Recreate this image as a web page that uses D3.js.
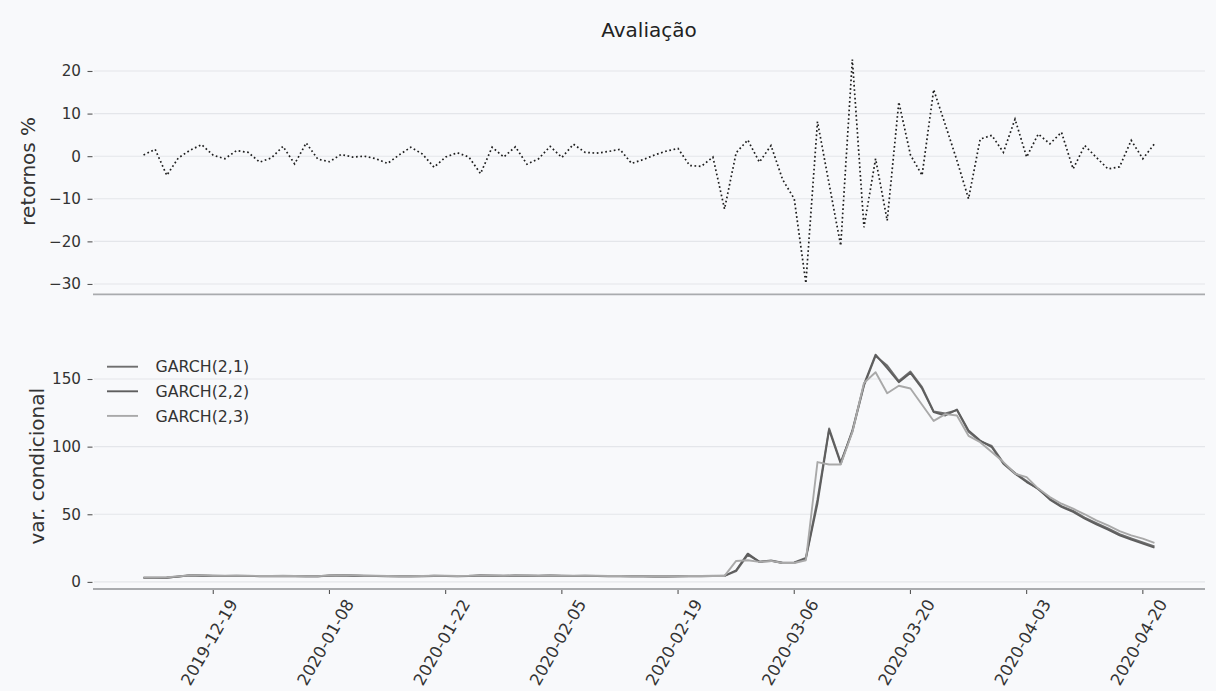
<!DOCTYPE html>
<html><head><meta charset="utf-8">
<script src="https://cdn.jsdelivr.net/npm/d3@7"></script>
<style>
html,body{margin:0;padding:0;background:#f8f9fb;}
svg{display:block;font-family:"DejaVu Sans",sans-serif;}
</style></head><body>
<svg id="chart" width="1216" height="691"></svg>
<script>
// Trading days (B3) in the evaluation window
const dates = [
  "2019-12-11","2019-12-12","2019-12-13","2019-12-16","2019-12-17","2019-12-18","2019-12-19","2019-12-20","2019-12-23","2019-12-26","2019-12-27","2019-12-30",
  "2020-01-02","2020-01-03","2020-01-06","2020-01-07","2020-01-08","2020-01-09","2020-01-10","2020-01-13","2020-01-14","2020-01-15","2020-01-16","2020-01-17","2020-01-20","2020-01-21","2020-01-22","2020-01-23","2020-01-24","2020-01-27","2020-01-28","2020-01-29","2020-01-30","2020-01-31",
  "2020-02-03","2020-02-04","2020-02-05","2020-02-06","2020-02-07","2020-02-10","2020-02-11","2020-02-12","2020-02-13","2020-02-14","2020-02-17","2020-02-18","2020-02-19","2020-02-20","2020-02-21","2020-02-26","2020-02-27","2020-02-28",
  "2020-03-02","2020-03-03","2020-03-04","2020-03-05","2020-03-06","2020-03-09","2020-03-10","2020-03-11","2020-03-12","2020-03-13","2020-03-16","2020-03-17","2020-03-18","2020-03-19","2020-03-20","2020-03-23","2020-03-24","2020-03-25","2020-03-26","2020-03-27","2020-03-30","2020-03-31",
  "2020-04-01","2020-04-02","2020-04-03","2020-04-06","2020-04-07","2020-04-08","2020-04-09","2020-04-13","2020-04-14","2020-04-15","2020-04-16","2020-04-17","2020-04-20","2020-04-22"
];

// Daily returns (%)
const retornos = [
  0.3, 1.6, -4.5, -0.4, 1.4, 2.7, 0.2, -0.6, 1.3, 0.9, -1.4, -0.4, 2.3, -1.8, 3.1, -0.7, -1.3, 0.4, -0.2, 0.0,
  -0.6, -1.7, 0.3, 2.1, 0.5, -2.6, -0.2, 0.8, -0.2, -4.1, 2.1, -0.2, 2.2, -1.9, -0.6, 2.3, -0.3, 2.8, 0.9, 0.7,
  1.1, 1.6, -1.7, -0.8, 0.3, 1.2, 1.8, -2.2, -2.4, -0.2, -12.4, 0.8, 3.8, -1.4, 2.5, -5.5, -10.0, -29.8, 8.1, -6.5,
  -21.0, 22.7, -16.7, -0.6, -15.1, 12.7, 0.3, -4.5, 15.6, 7.4, -1.0, -10.0, 4.0, 4.9, 0.9, 8.7, -0.2, 5.2, 2.9, 5.6,
  -3.0, 2.5, -0.3, -3.0, -2.5, 3.7, -0.6, 2.9
];

// Conditional variance forecasts
const garch21 = [
  3.1, 3.1, 3.2, 4.0, 4.9, 4.7, 4.5, 4.4, 4.5, 4.4, 4.3, 4.3, 4.4, 4.3, 4.2, 4.2, 4.7, 4.9, 4.7, 4.5,
  4.4, 4.3, 4.2, 4.2, 4.3, 4.5, 4.4, 4.3, 4.4, 4.8, 4.6, 4.5, 4.7, 4.6, 4.5, 4.7, 4.5, 4.4, 4.5, 4.4,
  4.3, 4.3, 4.2, 4.2, 4.1, 4.1, 4.2, 4.3, 4.3, 4.4, 4.5, 8.0, 20.0, 15.0, 15.8, 14.2, 14.4, 17.8, 61.0, 113.5,
  88.5, 111.0, 145.0, 167.0, 160.0, 148.5, 155.5, 144.0, 126.0, 124.5, 127.0, 111.0, 104.0, 100.5, 88.0, 80.5, 74.5, 68.5, 61.5, 56.0,
  52.5, 47.5, 43.5, 39.5, 35.3, 32.2, 29.2, 26.3
];
const garch22 = [
  3.0, 3.0, 3.1, 3.9, 4.8, 4.6, 4.4, 4.3, 4.4, 4.3, 4.2, 4.2, 4.3, 4.2, 4.1, 4.1, 4.6, 4.8, 4.6, 4.4,
  4.3, 4.2, 4.1, 4.1, 4.2, 4.4, 4.3, 4.2, 4.3, 4.7, 4.5, 4.4, 4.6, 4.5, 4.4, 4.6, 4.4, 4.3, 4.4, 4.3,
  4.2, 4.2, 4.1, 4.1, 4.0, 4.0, 4.1, 4.2, 4.2, 4.3, 4.4, 8.6, 20.9, 14.8, 15.5, 14.0, 14.0, 17.2, 58.0, 112.4,
  87.3, 112.0, 146.0, 168.0, 158.0, 147.6, 154.5, 143.0, 125.5, 123.0, 127.4, 112.0, 104.5, 99.6, 87.3, 80.0, 73.8, 68.9, 60.8, 55.4,
  51.7, 46.7, 42.6, 38.6, 34.4, 31.2, 28.3, 25.3
];
const garch23 = [
  3.3, 3.3, 3.4, 4.1, 4.9, 4.8, 4.6, 4.5, 4.6, 4.5, 4.4, 4.4, 4.5, 4.4, 4.3, 4.3, 4.7, 4.9, 4.8, 4.6,
  4.5, 4.4, 4.3, 4.3, 4.4, 4.6, 4.5, 4.4, 4.5, 4.8, 4.7, 4.6, 4.7, 4.7, 4.6, 4.7, 4.6, 4.5, 4.6, 4.5,
  4.4, 4.4, 4.3, 4.3, 4.2, 4.2, 4.3, 4.4, 4.4, 4.5, 4.4, 15.5, 16.0, 14.8, 15.5, 14.0, 14.0, 16.0, 88.6, 86.8,
  86.8, 110.7, 147.0, 155.0, 139.5, 145.0, 143.0, 131.0, 119.0, 124.0, 123.0, 108.0, 103.3, 96.0, 88.6, 80.0, 77.5, 69.0, 62.7, 57.8,
  54.1, 50.0, 45.5, 41.8, 37.6, 34.4, 32.0, 28.8
];

const seriesNames = ["GARCH(2,1)", "GARCH(2,2)", "GARCH(2,3)"];
const seriesColors = ["#6f6f6f", "#5e5e5e", "#a9a9a9"];
const yTicksTop = [-30, -20, -10, 0, 10, 20];
const yTicksBottom = [0, 50, 100, 150];
const xTickStep = 10, xTickFirst = 6;

const svg = d3.select("#chart");
const W = 1216;
const left = 93, right = 1205;
const topPanel = {y0: 48.3, y1: 294.3};
const botPanel = {y0: 343.5, y1: 589};
const textColor = "#333";

svg.append("rect").attr("width", W).attr("height", 691).attr("fill", "#f8f9fb");

// matplotlib-style 5% margins around the data extent
function padded(ext) {
  const m = (ext[1] - ext[0]) * 0.05;
  return [ext[0] - m, ext[1] + m];
}

const n = dates.length;
const x = d3.scaleLinear().domain(padded([0, n - 1])).range([left, right]);
const yTop = d3.scaleLinear().domain(padded(d3.extent(retornos))).range([topPanel.y1, topPanel.y0]);
const allVar = garch21.concat(garch22, garch23);
const yBot = d3.scaleLinear().domain(padded(d3.extent(allVar))).range([botPanel.y1, botPanel.y0]);

function drawFrame(y, ticks, panel) {
  const g = svg.append("g");
  g.selectAll("line.grid").data(ticks).enter().append("line")
    .attr("x1", left + 1).attr("x2", right)
    .attr("y1", d => y(d)).attr("y2", d => y(d))
    .attr("stroke", "#e4e6ea").attr("stroke-width", 1.1);
  const ax = g.append("g").attr("transform", `translate(${left},0)`)
    .call(d3.axisLeft(y).tickValues(ticks).tickSize(5).tickPadding(7)
      .tickFormat(d => d < 0 ? "\u2212" + Math.abs(d) : String(d)));
  ax.select(".domain").remove();
  ax.selectAll(".tick line").attr("stroke", "#555").attr("stroke-width", 1.1).attr("x1", -5.5).attr("x2", -0.5);
  ax.selectAll(".tick text").attr("fill", textColor).attr("font-size", 15.2)
    .attr("font-family", "DejaVu Sans");
  g.append("line").attr("x1", left).attr("x2", right)
    .attr("y1", panel.y1).attr("y2", panel.y1)
    .attr("stroke", "#a9abae").attr("stroke-width", 1.8);
  return g;
}

drawFrame(yTop, yTicksTop, topPanel);
drawFrame(yBot, yTicksBottom, botPanel);

// Returns: dotted line
svg.append("path").datum(retornos)
  .attr("d", d3.line().x((d, i) => x(i)).y(d => yTop(d)))
  .attr("fill", "none").attr("stroke", "#1e1e1e").attr("stroke-width", 1.7)
  .attr("stroke-dasharray", "1.7,2.6");

// Conditional variance lines (lightest drawn last)
const series = [garch21, garch22, garch23];
series.forEach((s, k) => {
  svg.append("path").datum(s)
    .attr("d", d3.line().x((d, i) => x(i)).y(d => yBot(d)))
    .attr("fill", "none").attr("stroke", seriesColors[k]).attr("stroke-width", 1.9)
    .attr("stroke-linejoin", "round");
});

// Legend
const leg = svg.append("g");
seriesNames.forEach((name, k) => {
  const cy = 366.7 + k * 24.6;
  leg.append("line").attr("x1", 107).attr("x2", 138).attr("y1", cy).attr("y2", cy)
    .attr("stroke", seriesColors[k]).attr("stroke-width", 1.9);
  leg.append("text").attr("x", 155.5).attr("y", cy).attr("dy", "0.36em")
    .attr("font-size", 15.8).attr("fill", textColor).text(name);
});

// X tick labels (rotated 60°, bounding box centred under the tick)
const tickIdx = d3.range(xTickFirst, n, xTickStep);
const xFont = 16.5;
const xl = svg.append("g");
tickIdx.forEach(i => {
  const t = xl.append("text").attr("font-size", xFont).attr("fill", textColor)
    .attr("text-anchor", "middle").attr("dy", "0.35em").text(dates[i]);
  const L = t.node().getComputedTextLength();
  const h = xFont * 1.16;
  const a = 60 * Math.PI / 180;
  const bh = L * Math.sin(a) + h * Math.cos(a);
  t.attr("transform", `translate(${x(i) - 4},${botPanel.y1 + 7 + bh / 2}) rotate(-60)`);
  xl.append("line").attr("x1", x(i)).attr("x2", x(i)).attr("y1", botPanel.y1 + 1).attr("y2", botPanel.y1 + 5)
    .attr("stroke", "#555").attr("stroke-width", 1.1);
});

// Titles and axis labels
svg.append("text").attr("x", (left + right) / 2).attr("y", 37).attr("text-anchor", "middle")
  .attr("font-size", 20).attr("fill", "#222").text("Avaliação");
svg.append("text").attr("transform", `translate(34.5,${(topPanel.y0 + topPanel.y1) / 2}) rotate(-90)`)
  .attr("text-anchor", "middle").attr("font-size", 20).attr("fill", textColor).text("retornos %");
svg.append("text").attr("transform", `translate(43.5,${(botPanel.y0 + botPanel.y1) / 2}) rotate(-90)`)
  .attr("text-anchor", "middle").attr("font-size", 20).attr("fill", textColor).text("var. condicional");
</script>
</body></html>
